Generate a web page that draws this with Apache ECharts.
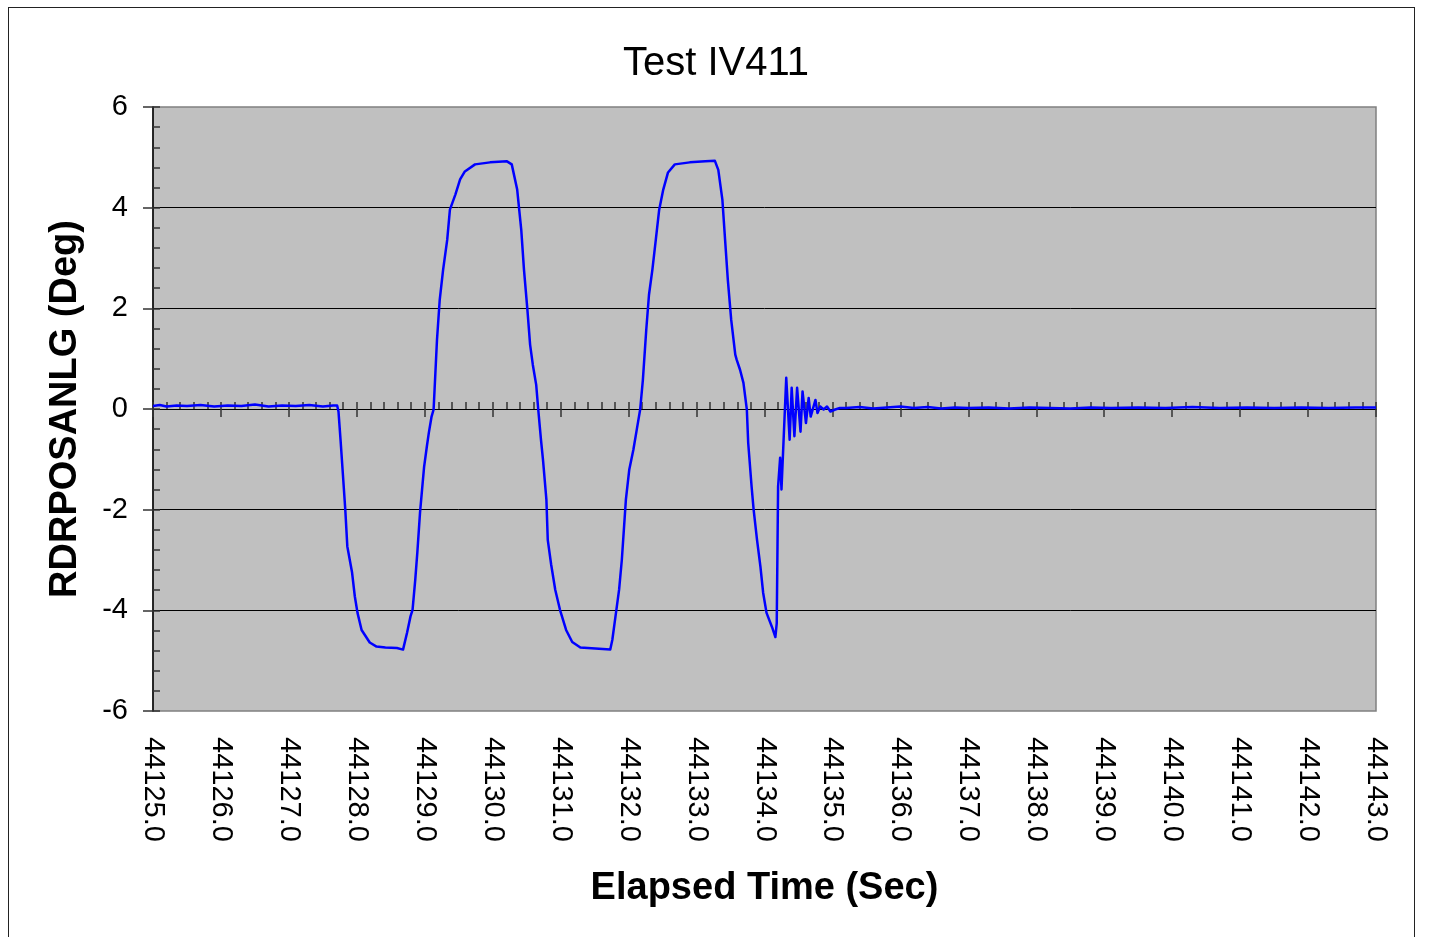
<!DOCTYPE html>
<html>
<head>
<meta charset="utf-8">
<script src="https://cdn.jsdelivr.net/npm/echarts@6/dist/echarts.min.js"></script>
<style>
  html, body { margin: 0; padding: 0; background: #fff; }
  #frame { position: absolute; left: 8px; top: 7px; width: 1407px; height: 960px; border: 1.5px solid #222; box-sizing: border-box; }
  #chart { position: absolute; left: 0; top: 0; width: 1432px; height: 937px; }
</style>
</head>
<body>
<div id="frame"></div>
<div id="chart"></div>
<script>
// ---- data ----
const chartTitle = 'Test IV411';
const xName = 'Elapsed Time (Sec)';
const yName = 'RDRPOSANLG (Deg)';
const xMin = 44125, xMax = 44143;
const yMin = -6, yMax = 6;

const times = [
  44125.00, 44125.10, 44125.20, 44125.35, 44125.50, 44125.70, 44125.90, 44126.10, 44126.30, 44126.50,
  44126.70, 44126.90, 44127.10, 44127.30, 44127.50, 44127.65, 44127.71,
  44127.73, 44127.76, 44127.80, 44127.83, 44127.86, 44127.93, 44127.97, 44128.01, 44128.07, 44128.19,
  44128.29, 44128.42, 44128.59, 44128.68,
  44128.74, 44128.79, 44128.82, 44128.86, 44128.89, 44128.93, 44128.96, 44128.99, 44129.03, 44129.06,
  44129.10, 44129.13, 44129.18, 44129.22, 44129.27, 44129.33, 44129.37, 44129.45, 44129.52, 44129.59,
  44129.74, 44129.96, 44130.21,
  44130.28, 44130.36, 44130.42, 44130.46, 44130.51, 44130.55, 44130.59, 44130.64, 44130.67, 44130.71,
  44130.74, 44130.79, 44130.81, 44130.86, 44130.92, 44130.99, 44131.08, 44131.17, 44131.29, 44131.51,
  44131.73,
  44131.76, 44131.80, 44131.86, 44131.90, 44131.96, 44132.01, 44132.07, 44132.12, 44132.17, 44132.21,
  44132.26, 44132.30, 44132.35, 44132.40, 44132.45, 44132.51, 44132.58, 44132.68, 44132.90, 44133.13,
  44133.27,
  44133.32, 44133.38, 44133.42, 44133.46, 44133.51, 44133.57, 44133.59, 44133.64, 44133.69, 44133.74,
  44133.76, 44133.81, 44133.84, 44133.89, 44133.94, 44133.98, 44134.03, 44134.11, 44134.16, 44134.18,
  44134.20, 44134.23, 44134.25, 44134.32, 44134.37, 44134.40, 44134.44, 44134.48, 44134.53, 44134.56,
  44134.61, 44134.65, 44134.68, 44134.75, 44134.78, 44134.82, 44134.87, 44134.92, 44134.97, 44135.04,
  44135.11,
  44135.20, 44135.40, 44135.60, 44135.80, 44136.00, 44136.20, 44136.40, 44136.60, 44136.80, 44137.00,
  44137.30, 44137.60, 44137.90, 44138.20, 44138.50, 44138.80, 44139.10, 44139.50, 44139.90, 44140.30,
  44140.70, 44141.10, 44141.50, 44141.90, 44142.30, 44142.70, 44143.00
];

const angles = [
  0.06, 0.08, 0.05, 0.07, 0.06, 0.08, 0.05, 0.07, 0.06, 0.09,
  0.05, 0.07, 0.06, 0.08, 0.05, 0.07, 0.07,
  -0.05, -0.61, -1.40, -2.00, -2.73, -3.25, -3.72, -4.05, -4.39, -4.64,
  -4.72, -4.74, -4.75, -4.78,
  -4.44, -4.12, -3.99, -3.39, -2.86, -2.06, -1.60, -1.15, -0.75, -0.47,
  -0.15, -0.01, 1.38, 2.17, 2.77, 3.36, 3.96, 4.26, 4.56, 4.72,
  4.86, 4.90, 4.92,
  4.86, 4.36, 3.56, 2.77, 1.98, 1.28, 0.88, 0.48, -0.01, -0.61,
  -1.01, -1.80, -2.60, -3.09, -3.59, -3.99, -4.39, -4.63, -4.74, -4.76,
  -4.78,
  -4.59, -4.19, -3.59, -3.00, -1.80, -1.20, -0.81, -0.41, -0.01, 0.58,
  1.58, 2.27, 2.77, 3.36, 3.96, 4.36, 4.70, 4.86, 4.90, 4.92,
  4.93,
  4.75, 4.16, 3.36, 2.57, 1.77, 1.08, 0.98, 0.78, 0.52, -0.01,
  -0.67, -1.54, -2.00, -2.60, -3.13, -3.65, -4.05, -4.33, -4.53, -4.26,
  -1.54, -0.97, -1.60, 0.62, -0.61, 0.42, -0.54, 0.42, -0.45, 0.35,
  -0.28, 0.22, -0.15, 0.18, -0.08, 0.05, -0.01, 0.05, -0.05, -0.01,
  0.02,
  0.02, 0.04, 0.01, 0.03, 0.05, 0.02, 0.04, 0.01, 0.03, 0.02,
  0.03, 0.01, 0.03, 0.02, 0.01, 0.03, 0.02, 0.03, 0.02, 0.04,
  0.02, 0.03, 0.02, 0.03, 0.02, 0.03, 0.03
];

// ---- chart ----
const FONT = '"Liberation Sans", Arial, sans-serif';
const points = times.map((t, i) => [t, angles[i]]);
const chart = echarts.init(document.getElementById('chart'), null, { renderer: 'canvas' });

const tickColor = '#333';
chart.setOption({
  animation: false,
  backgroundColor: 'transparent',
  title: {
    text: chartTitle,
    left: 'center',
    top: 39,
    textStyle: { fontFamily: FONT, fontSize: 40, fontWeight: 'normal', color: '#000' }
  },
  grid: {
    left: 153, right: 56, top: 107, bottom: 226,
    show: true, backgroundColor: '#c0c0c0', borderColor: '#808080', borderWidth: 1.5,
    containLabel: false
  },
  xAxis: [
    { // zero line with major ticks downward
      type: 'value', min: xMin, max: xMax, interval: 1, position: 'bottom',
      axisLine: { show: true, onZero: true, lineStyle: { color: '#000', width: 1 } },
      axisTick: { show: true, inside: false, length: 8, lineStyle: { color: tickColor, width: 1.5 } },
      axisLabel: { show: false }, splitLine: { show: false }
    },
    { // zero line with minor ticks upward
      type: 'value', min: xMin, max: xMax, interval: 0.2, position: 'bottom',
      axisLine: { show: true, onZero: true, lineStyle: { color: '#000', width: 1 } },
      axisTick: { show: true, inside: true, length: 7, lineStyle: { color: tickColor, width: 1.5 } },
      axisLabel: { show: false }, splitLine: { show: false }
    },
    { // labels at bottom
      type: 'value', min: xMin, max: xMax, interval: 1, position: 'bottom',
      axisLine: { show: false, onZero: false }, axisTick: { show: false }, splitLine: { show: false },
      axisLabel: {
        show: true, rotate: -90, margin: 26, fontFamily: FONT, fontSize: 29, color: '#000',
        formatter: v => v.toFixed(1), showMinLabel: true, showMaxLabel: true
      },
      name: xName, nameLocation: 'middle', nameGap: 159,
      nameTextStyle: { fontFamily: FONT, fontSize: 38, fontWeight: 'bold', color: '#000' }
    }
  ],
  yAxis: [
    {
      type: 'value', min: yMin, max: yMax, interval: 2, position: 'left',
      axisLine: { show: true, onZero: false, lineStyle: { color: '#000', width: 1.5 } },
      axisTick: { show: true, inside: false, length: 10, lineStyle: { color: tickColor, width: 1.5 } },
      axisLabel: { show: true, margin: 25, fontFamily: FONT, fontSize: 29, color: '#000' },
      splitLine: { show: true, showMinLine: false, showMaxLine: false, lineStyle: { color: '#000', width: 1 } },
      name: yName, nameLocation: 'middle', nameGap: 68,
      nameTextStyle: { fontFamily: FONT, fontSize: 38, fontWeight: 'bold', color: '#000' }
    },
    {
      type: 'value', min: yMin, max: yMax, interval: 0.4, position: 'left',
      axisLine: { show: false, onZero: false },
      axisTick: { show: true, inside: true, length: 7, lineStyle: { color: tickColor, width: 1.5 } },
      axisLabel: { show: false }, splitLine: { show: false }
    }
  ],
  series: [{
    type: 'line', xAxisIndex: 0, yAxisIndex: 0, data: points,
    showSymbol: false, symbol: 'none', smooth: false,
    lineStyle: { color: '#0000ff', width: 2.5, join: 'round' }, itemStyle: { color: '#0000ff' },
    z: 5
  }]
});
</script>
</body>
</html>
